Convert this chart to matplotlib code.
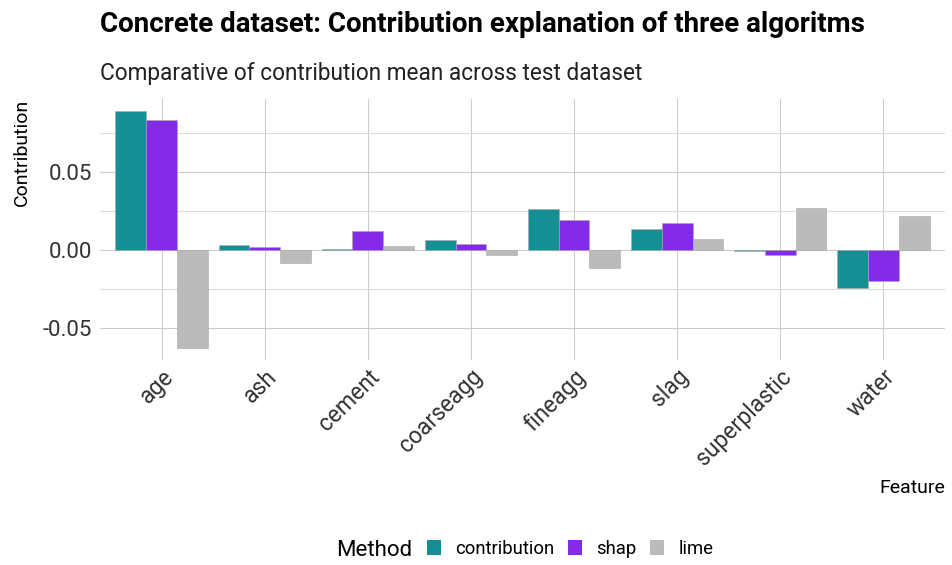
import numpy as np
import matplotlib.pyplot as plt
from matplotlib.patches import Patch

# Data #
features = ['age', 'ash', 'cement', 'coarseagg', 'fineagg', 'slag', 'superplastic', 'water']
methods = ['contribution', 'shap', 'lime']
contribution = [0.0889, 0.0028, 0.0003, 0.0060, 0.0261, 0.0133, -0.0006, -0.0244]
shap = [0.0831, 0.0015, 0.0120, 0.0037, 0.0192, 0.0169, -0.0036, -0.0199]
lime = [-0.0628, -0.0085, 0.0022, -0.0036, -0.0115, 0.0069, 0.0269, 0.0216]
colors = ['#158f93', '#832be6', '#bbbbbb']

plt.rcParams['font.family'] = ['Roboto', 'DejaVu Sans']

fig = plt.figure(figsize=(9.52, 5.65), dpi=100)
ax = fig.add_axes([100/952, 1 - 359.5/565, 845/952, 260.5/565])

x = np.arange(len(features))
w = 0.3
for i, vals in enumerate([contribution, shap, lime]):
    ax.bar(x + (i - 1) * w, vals, width=w, color=colors[i],
           edgecolor='#a8a8a8', linewidth=0.4, zorder=3)

ax.set_xlim(-0.6, len(features) - 0.4)
ax.set_ylim(-0.0704, 0.0965)

ax.set_yticks([-0.05, 0.0, 0.05])
ax.set_yticklabels(['-0.05', '0.00', '0.05'])
ax.set_yticks([-0.025, 0.025, 0.075], minor=True)
ax.set_xticks(x)
ax.set_xticklabels(features, rotation=45, ha='right', va='top',
                   rotation_mode='anchor')

ax.grid(True, which='major', color='#cccccc', linewidth=0.8, zorder=0)
ax.grid(True, which='minor', axis='y', color='#dddddd', linewidth=0.8, zorder=0)
for s in ax.spines.values():
    s.set_visible(False)
ax.tick_params(axis='both', which='both', length=0)
ax.tick_params(axis='y', labelsize=16, labelcolor='#333333', pad=6)
ax.tick_params(axis='x', labelsize=16.5, labelcolor='#333333', pad=4)

ax.set_ylabel('Contribution', fontsize=14, ha='right', va='center')
ax.yaxis.set_label_coords(-0.0923, 1.0)
ax.set_xlabel('Feature', fontsize=14, ha='right', va='center')
ax.xaxis.set_label_coords(1.0, -0.493)

fig.text(100/952, 1 - 24/565, 'Concrete dataset: Contribution explanation of three algoritms',
         fontsize=20, fontweight='bold', va='center', ha='left')
fig.text(100/952, 1 - 73/565, 'Comparative of contribution mean across test dataset',
         fontsize=16.3, fontweight='normal', color='#222222', va='center', ha='left')

# Legend at the bottom, title beside the keys #
fig.text(336/952, 1 - 550/565, 'Method', fontsize=16, va='center', ha='left')
handles = [Patch(facecolor=c, edgecolor='none') for c in colors]
fig.legend(handles, methods, loc='center left', ncol=3,
           bbox_to_anchor=(412/952, 1 - 549/565), frameon=False, fontsize=13.3,
           handlelength=0.76, handleheight=0.86, columnspacing=0.76,
           handletextpad=0.76, borderpad=0.3)

fig.savefig('out.png', dpi=100)
